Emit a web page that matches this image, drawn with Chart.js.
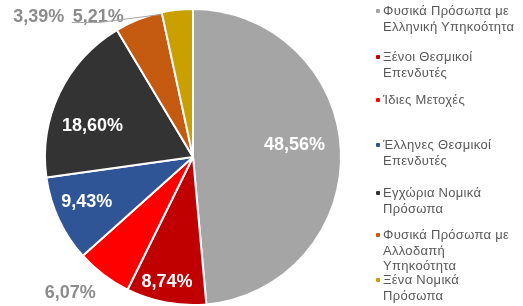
<!DOCTYPE html>
<html>
<head>
<meta charset="utf-8">
<script src="https://cdn.jsdelivr.net/npm/chart.js@4"></script>
<style>
  body { margin: 0; background: #fff; width: 523px; height: 306px; overflow: hidden; position: relative; font-family: "Liberation Sans", Arial, sans-serif; }
  #wrap { position: absolute; left: 0; top: 0; width: 386px; height: 306px; }
  #legend { position: absolute; left: 374px; top: 0; width: 149px; height: 306px; }
  .item { position: absolute; left: 0; font-size: 13px; letter-spacing: 0.3px; line-height: 15.5px; color: #595959; padding-left: 9px; white-space: nowrap; }
  .dot { position: absolute; left: 2px; top: 6px; width: 4px; height: 4px; border-radius: 1px; }
</style>
</head>
<body>
<div id="wrap"><canvas id="pie" width="386" height="306"></canvas></div>
<div id="legend"></div>
<script>
// categories and values
const labels = [
  "Φυσικά Πρόσωπα με Ελληνική Υπηκοότητα",
  "Ξένοι Θεσμικοί Επενδυτές",
  "Ίδιες Μετοχές",
  "Έλληνες Θεσμικοί Επενδυτές",
  "Εγχώρια Νομικά Πρόσωπα",
  "Φυσικά Πρόσωπα με Αλλοδαπή Υπηκοότητα",
  "Ξένα Νομικά Πρόσωπα"
];
const legendLines = [
  ["Φυσικά Πρόσωπα με", "Ελληνική Υπηκοότητα"],
  ["Ξένοι Θεσμικοί", "Επενδυτές"],
  ["Ίδιες Μετοχές"],
  ["Έλληνες Θεσμικοί", "Επενδυτές"],
  ["Εγχώρια Νομικά", "Πρόσωπα"],
  ["Φυσικά Πρόσωπα με", "Αλλοδαπή", "Υπηκοότητα"],
  ["Ξένα Νομικά", "Πρόσωπα"]
];
const values = [48.56, 8.74, 6.07, 9.43, 18.60, 5.21, 3.39];
const colors = ["#A5A5A5", "#C00000", "#FF0000", "#2F5597", "#333333", "#C55A11", "#C9A000"];

// label layout: radius factor and angle shift (deg) from slice middle
const labelRadius = [0.69, 0.86, 1.24, 0.78, 0.71, 1.14, 1.41];
const labelShift = [-4, 1.2, 4.8, 1.9, -8.4, -12.6, -41.6];
const labelInside = [true, true, false, true, true, false, false];
const legendTops = [3, 49, 92, 137, 185, 227, 272];

function fmt(v) {
  return v.toFixed(2).replace(".", ",") + "%";
}

const pieLabels = {
  id: "pieLabels",
  afterDatasetsDraw(chart) {
    const ctx = chart.ctx;
    const arcs = chart.getDatasetMeta(0).data;
    ctx.save();
    ctx.font = "bold 18px 'Liberation Sans', Arial, sans-serif";
    ctx.textAlign = "center";
    ctx.textBaseline = "middle";
    arcs.forEach((arc, i) => {
      const p = arc.getProps(["x", "y", "startAngle", "endAngle", "outerRadius"], true);
      const mid = (p.startAngle + p.endAngle) / 2 + labelShift[i] * Math.PI / 180;
      const r = p.outerRadius * labelRadius[i];
      const tx = p.x + Math.cos(mid) * r;
      const ty = p.y + Math.sin(mid) * r;
      ctx.fillStyle = labelInside[i] ? "#FFFFFF" : "#8C8C8C";
      ctx.fillText(fmt(values[i]), tx, ty);
      if (i === 5) {
        // leader line from the 5,21% label up to the top of the pie
        const w = ctx.measureText(fmt(values[i])).width;
        const ex = p.x + Math.cos(p.endAngle) * p.outerRadius;
        const ey = p.y + Math.sin(p.endAngle) * p.outerRadius;
        ctx.strokeStyle = "#A6A6A6";
        ctx.lineWidth = 1;
        ctx.beginPath();
        ctx.moveTo(tx - w / 2 - 1, ty + 5);
        ctx.lineTo(tx + w / 2 - 24, ty + 5);
        ctx.lineTo(ex, ey + 2);
        ctx.stroke();
      }
    });
    ctx.restore();
  }
};

new Chart(document.getElementById("pie"), {
  type: "pie",
  data: {
    labels: labels,
    datasets: [{
      data: values,
      backgroundColor: colors,
      borderColor: "#FFFFFF",
      borderWidth: 2
    }]
  },
  options: {
    responsive: false,
    animation: false,
    layout: { padding: { top: 8, bottom: 0 } },
    plugins: {
      legend: { display: false },
      tooltip: { enabled: false }
    }
  },
  plugins: [pieLabels]
});

// legend on the right
const legend = document.getElementById("legend");
legendLines.forEach((lines, i) => {
  const item = document.createElement("div");
  item.className = "item";
  item.style.top = legendTops[i] + "px";
  item.innerHTML = '<span class="dot" style="background:' + colors[i] + '"></span>' + lines.join("<br>");
  legend.appendChild(item);
});
</script>
</body>
</html>
